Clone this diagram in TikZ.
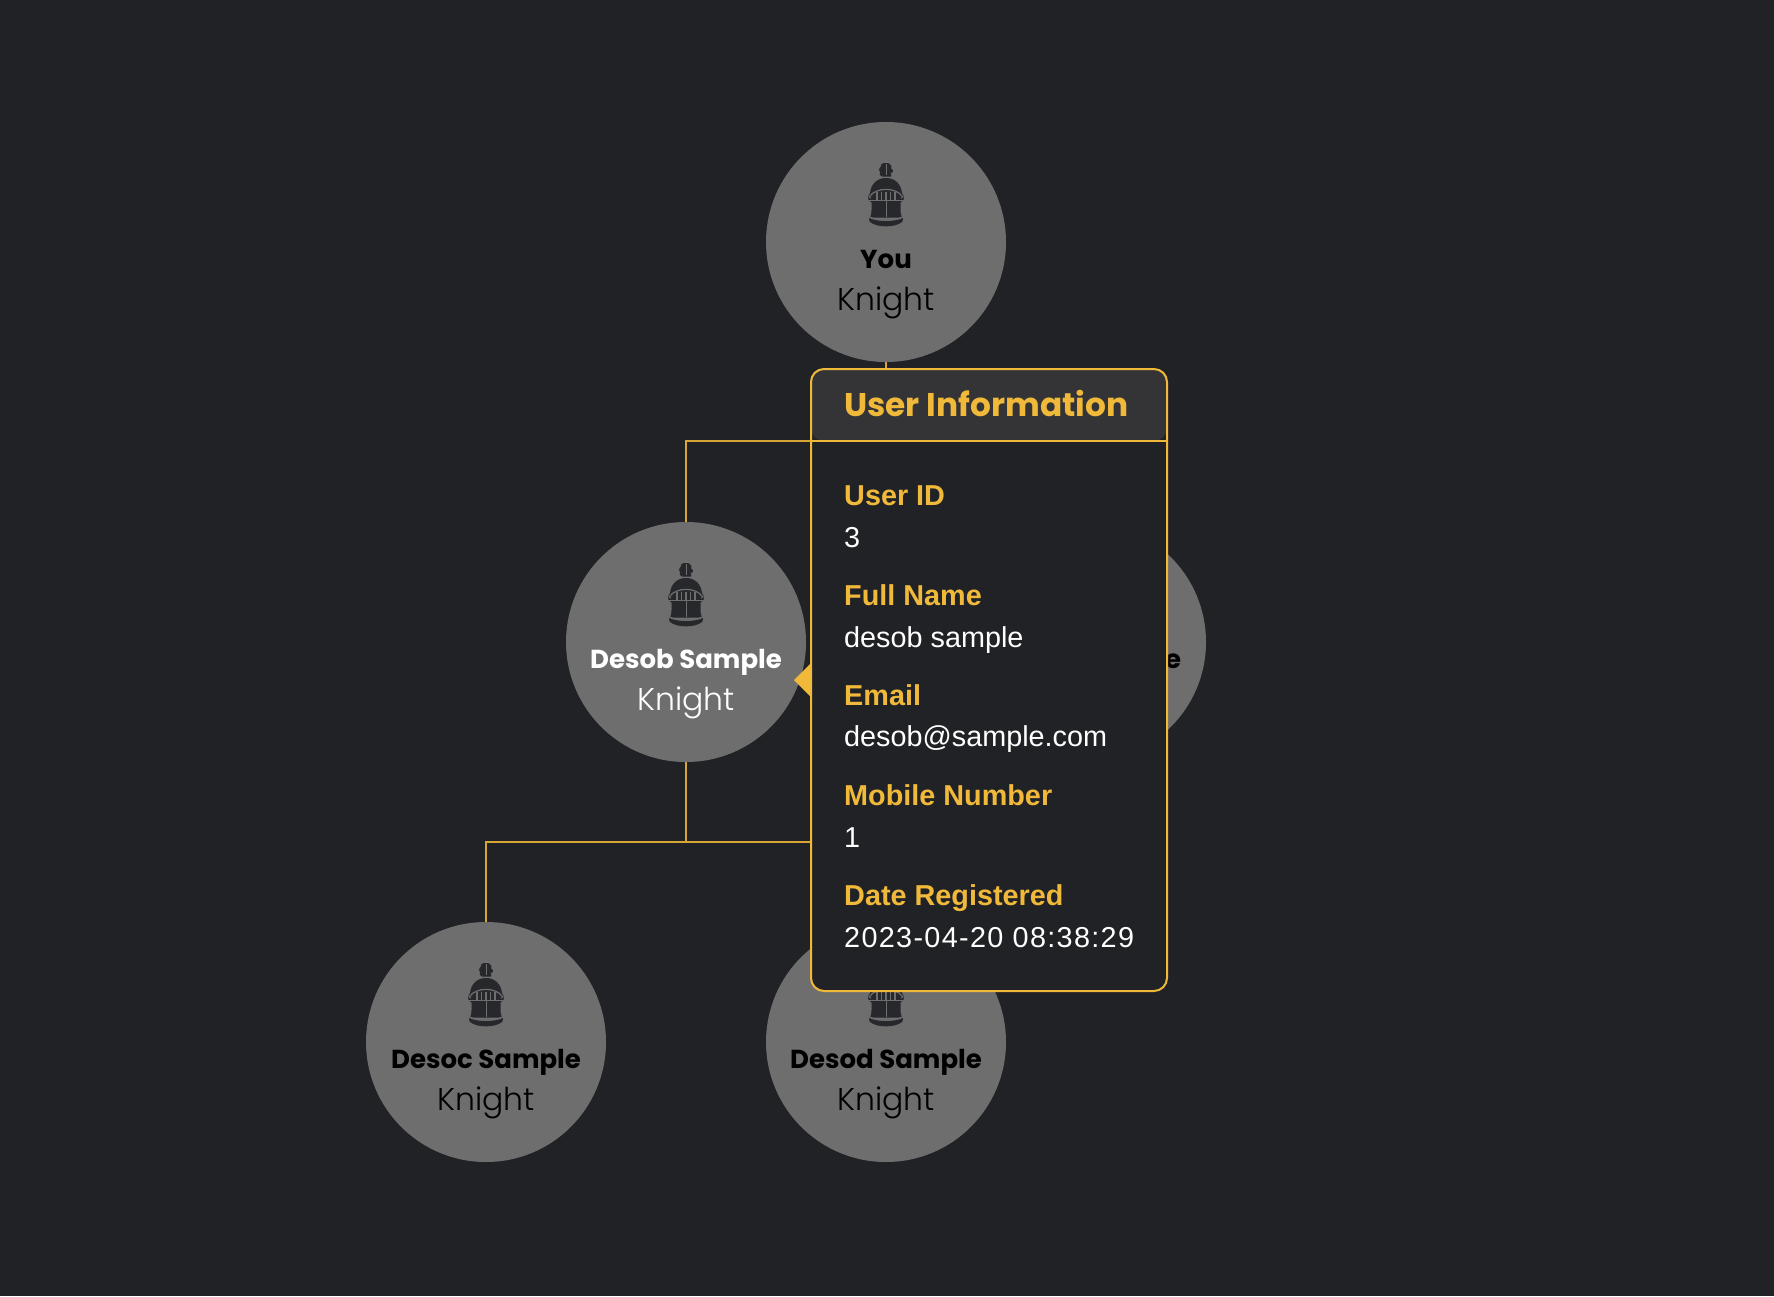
\documentclass[tikz,border=0pt]{standalone}
\usepackage{fontspec}
\setmainfont{Liberation Sans}
\newfontfamily\nameFont[UprightFont={* Bold}]{Poppins}
\newfontfamily\roleFont[UprightFont={* Light}]{Poppins}
\newfontfamily\headFont[UprightFont={* Bold}]{Poppins}
\newfontfamily\bodyFont{Liberation Sans}
\definecolor{bg}{HTML}{212226}
\definecolor{gold}{HTML}{F0B93A}
\definecolor{disc}{HTML}{6E6E6E}
\definecolor{head}{HTML}{343436}
\definecolor{ink}{HTML}{27282C}
\tikzset{
  member/.style={circle,fill=disc,draw=none,minimum size=240pt,inner sep=0pt,outer sep=0pt},
  link/.style={draw=gold!90!black,line width=1.5pt},
  nameText/.style={anchor=base,inner sep=0pt,font=\nameFont\fontsize{26}{30}\selectfont},
  roleText/.style={anchor=base,inner sep=0pt,font=\roleFont\fontsize{31.5}{36}\selectfont},
  labelText/.style={anchor=base west,inner sep=0pt,text=gold,font=\bodyFont\bfseries\fontsize{28.8}{32}\selectfont},
  valueText/.style={anchor=base west,inner sep=0pt,text=white,font=\bodyFont\fontsize{28.8}{32}\selectfont},
  helmet/.pic={
    % plume
    \fill[ink] (0,-79) .. controls (-4,-79.5) and (-6,-77) .. (-5.5,-75)
      .. controls (-7.5,-74) and (-7.5,-71) .. (-6,-70)
      .. controls (-7,-68) and (-6,-66) .. (-4,-65.5) -- (5,-65.5)
      .. controls (6,-66.5) and (5,-68) .. (4.5,-69)
      .. controls (7.5,-69) and (8,-72) .. (5.5,-73)
      .. controls (6,-76) and (4,-79.5) .. (0,-79) -- cycle;
    % dome and face
    \fill[ink] (0,-64) .. controls (-9,-64) and (-15,-58) .. (-16,-49)
      -- (-18,-45.5) -- (-17.5,-42) -- (-14.5,-39.5) -- (-14.5,-32)
      .. controls (-14.5,-28) and (-15.5,-26) .. (-16,-24.5)
      -- (16,-24.5) .. controls (15.5,-26) and (14.5,-28) .. (14.5,-32)
      -- (14.5,-39.5) -- (17.5,-42) -- (18,-45.5) -- (16,-49)
      .. controls (15,-58) and (9,-64) .. (0,-64) -- cycle;
    % collar
    \fill[ink] (-17,-24) .. controls (-9,-20) and (9,-20) .. (17,-24) -- (16.5,-20.5)
      .. controls (10,-14) and (-10,-14) .. (-16.5,-20.5) -- cycle;
    % details
    \draw[disc,line width=0.8pt] (0,-78) -- (0,-67);
    \draw[disc,line width=1.2pt] (-16.5,-45.5) .. controls (-10,-55) and (10,-55) .. (16.5,-45.5);
    \draw[disc,line width=1pt] (-17,-42) -- (17,-42);
    \draw[disc,line width=1pt] (-17.5,-45.5) -- (-15,-44) (17.5,-45.5) -- (15,-44);
    \foreach \x in {-9,-4.5,0,4.5,9} \draw[disc,line width=1.4pt] (\x,-50.5) -- (\x,-42);
    \draw[disc,line width=0.8pt] (0,-42) -- (0,-25);
    \draw[disc,line width=0.9pt] (-16,-25) .. controls (-8,-21) and (8,-21) .. (16,-25);
  },
}
\begin{document}
\begin{tikzpicture}[x=1pt,y=-1pt]
\useasboundingbox (0,0) rectangle (1774,1296);
\fill[bg] (0,0) rectangle (1774,1296);
\coordinate (rail1) at (886,441);
\coordinate (rail2) at (686,842);
\node[member] (you) at (886,242) {};
\node[member] (desob) at (686,642) {};
\node[member] (desoe) at (1086,642) {};
\node[member] (desoc) at (486,1042) {};
\node[member] (desod) at (886,1042) {};
\draw[link] (you.south) -- (rail1);
\draw[link] (desob.north) |- (rail1) -| (desoe.north);
\draw[link] (desob.south) -- (rail2);
\draw[link] (desoc.north) |- (rail2) -| (desod.north);
\foreach \n/\t/\c in {you/You/black,desob/Desob Sample/white,desoe/Desoe Sample/black,desoc/Desoc Sample/black,desod/Desod Sample/black}{
  \pic at (\n.center) {helmet};
  \path (\n.center) ++(0,26) node[nameText,text=\c] (\n name) {\t};
  \path (\n.center) ++(0,68) node[roleText,text=\c] (\n role) {Knight};
}
% popup
\fill[gold] (794,680) -- (811,663) -- (811,697) -- cycle;
\path[fill=bg,rounded corners=13pt] (811,369) rectangle (1167,991);
\path[fill=head,rounded corners=13pt] (811,441) -- (811,369) -- (1167,369) -- (1167,441) -- cycle;
\draw[gold,line width=2pt] (811,441) -- (1167,441);
\draw[gold,line width=2pt,rounded corners=13pt] (811,369) rectangle (1167,991);
\node[anchor=base west,inner sep=0pt,text=gold,font=\headFont\fontsize{32.8}{36}\selectfont] (title) at (844,416) {User Information};
\node[labelText] (l1) at (844,505) {User ID};
\node[valueText] (v1) at (844,547) {3};
\node[labelText] (l2) at (844,605.5) {Full Name};
\node[valueText] (v2) at (844,647) {desob sample};
\node[labelText] (l3) at (844,705) {Email};
\node[valueText] (v3) at (844,746.5) {desob@sample.com};
\node[labelText] (l4) at (844,805) {Mobile Number};
\node[valueText] (v4) at (844,847) {1};
\node[labelText] (l5) at (844,905) {Date Registered};
\node[valueText,font=\bodyFont\addfontfeature{LetterSpace=4.6}\fontsize{28.8}{32}\selectfont] (v5) at (844,947.5) {2023-04-20 08:38:29};
\end{tikzpicture}
\end{document}
